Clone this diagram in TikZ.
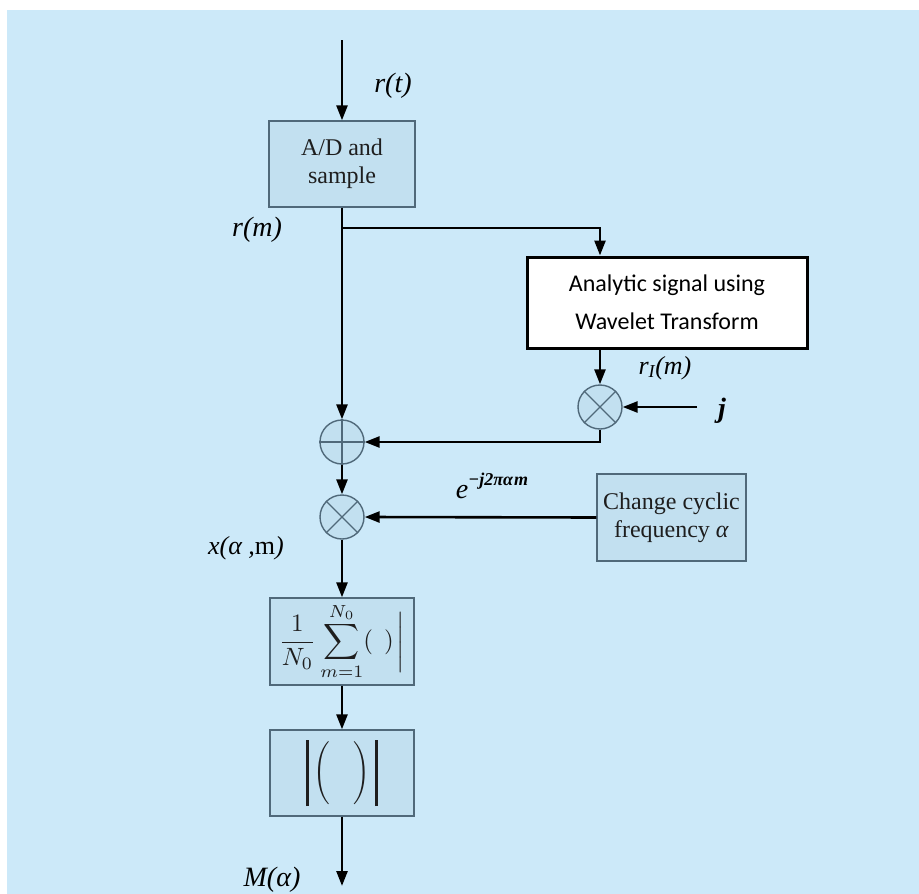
\documentclass[tikz,border=0pt]{standalone}
\usepackage{fontspec}
\setmainfont{Liberation Serif}
\newfontfamily\carlitofont{Carlito}
\usetikzlibrary{arrows.meta}
\definecolor{bgblue}{HTML}{CCE9F9}
\definecolor{boxblue}{HTML}{C2E0F0}
\definecolor{edgec}{HTML}{50697A}
\definecolor{txt}{HTML}{1E1E1E}
\tikzset{
 blk/.style={draw=edgec, line width=1.4pt, fill=boxblue, minimum width=146pt, minimum height=86pt, inner sep=0pt, align=center, text=txt, font=\fontsize{24}{28}\selectfont},
 wbox/.style={draw=black, line width=3pt, fill=white, minimum width=280pt, minimum height=91pt, inner sep=0pt, align=center, font=\carlitofont\fontsize{24}{38}\selectfont},
 opc/.style={circle, draw=edgec, line width=1.4pt, fill=boxblue, minimum size=44pt, inner sep=0pt},
 crossl/.style={draw=edgec, line width=1.2pt},
 sig/.style={line width=2.6pt, -{Triangle[length=15pt,width=11pt]}},
 lbl/.style={font=\fontsize{28}{30}\selectfont\itshape, inner sep=0pt}
}
\begin{document}
\begin{tikzpicture}[x=1pt,y=-1pt]
\path[use as bounding box, fill=white] (0,0) rectangle (919,894);
\fill[bgblue] (7,10) rectangle (919,894);
% input
\coordinate (in) at (342,40);
\node[blk] (ad) at (342,164) {A/D and\\sample};
\draw[sig] (in) -- (ad.north);
\node[lbl] (rt) at (393,86) {r(t)};
\node[lbl] (rm) at (257,230) {r(m)};
% branch to analytic block
\coordinate (br) at (342,228);
\coordinate (brr) at (600,228);
\node[wbox] (an) at (667,302.5) {Analytic signal using\\Wavelet Transform};
\draw[sig] (br) -- (brr) -- (brr |- an.north);
% multiplier with j
\node[opc] (m1) at (600,407) {};
\draw[crossl] (m1.45) -- (m1.225) (m1.135) -- (m1.315);
\draw[sig] (m1 |- an.south) -- (m1.north);
\node[lbl, font=\fontsize{26}{28}\selectfont\itshape] (ri) at (665,368) {r\textsubscript{\itshape I}(m)};
\coordinate (jin) at (697,407);
\draw[sig] (jin) -- (m1.east);
\node[lbl, font=\fontsize{28}{28}\selectfont\bfseries\itshape] (j) at (722,411) {j};
% adder
\node[opc] (sc) at (342,442) {};
\draw[crossl] (sc.north) -- (sc.south) (sc.west) -- (sc.east);
\draw[sig] (ad.south) -- (sc.north);
\draw[sig] (m1.south) |- (sc.east);
% second multiplier
\node[opc] (m2) at (342,517) {};
\draw[crossl] (m2.45) -- (m2.225) (m2.135) -- (m2.315);
\draw[sig] (sc.south) -- (m2.north);
\node[blk, minimum width=149pt, minimum height=87pt] (cb) at (671.5,517.5) {Change cyclic\\frequency \textit{α}};
\draw[sig] (cb.west) -- (m2.east);
\node[lbl] (ex) at (492,486) {e\raisebox{1.0ex}{\fontsize{18}{18}\selectfont\bfseries\itshape −j2πα\kern1pt m}};
\node[lbl, font=\fontsize{26}{28}\selectfont\itshape] (xa) at (246,548) {x(α ,\textup{m})};
% sum block
\node[blk, minimum width=144pt, minimum height=87pt] (sm) at (342,641.5) {\scalebox{2.5}{\fontsize{10}{12}\selectfont$\displaystyle\frac{\;1\;}{N_0}\sum_{m=1}^{N_0}(\;\,)\!\left.\vrule height 8pt depth 8pt width 0pt\right|$}};
\draw[sig] (m2.south) -- (sm.north);
% abs block
\node[blk, minimum width=144pt, minimum height=86pt] (ab) at (342,773) {\rule[-28pt]{2.6pt}{66pt}\hspace{5pt}\scalebox{2.1}{\fontsize{10}{12}\selectfont$\Bigg(\;\;\;\;\Bigg)$}\hspace{5pt}\rule[-28pt]{2.6pt}{66pt}};
\draw[sig] (sm.south) -- (ab.north);
\coordinate (out) at (342,886);
\draw[sig] (ab.south) -- (out);
\node[lbl] (ma) at (272,880) {M(α)};
\end{tikzpicture}
\end{document}
